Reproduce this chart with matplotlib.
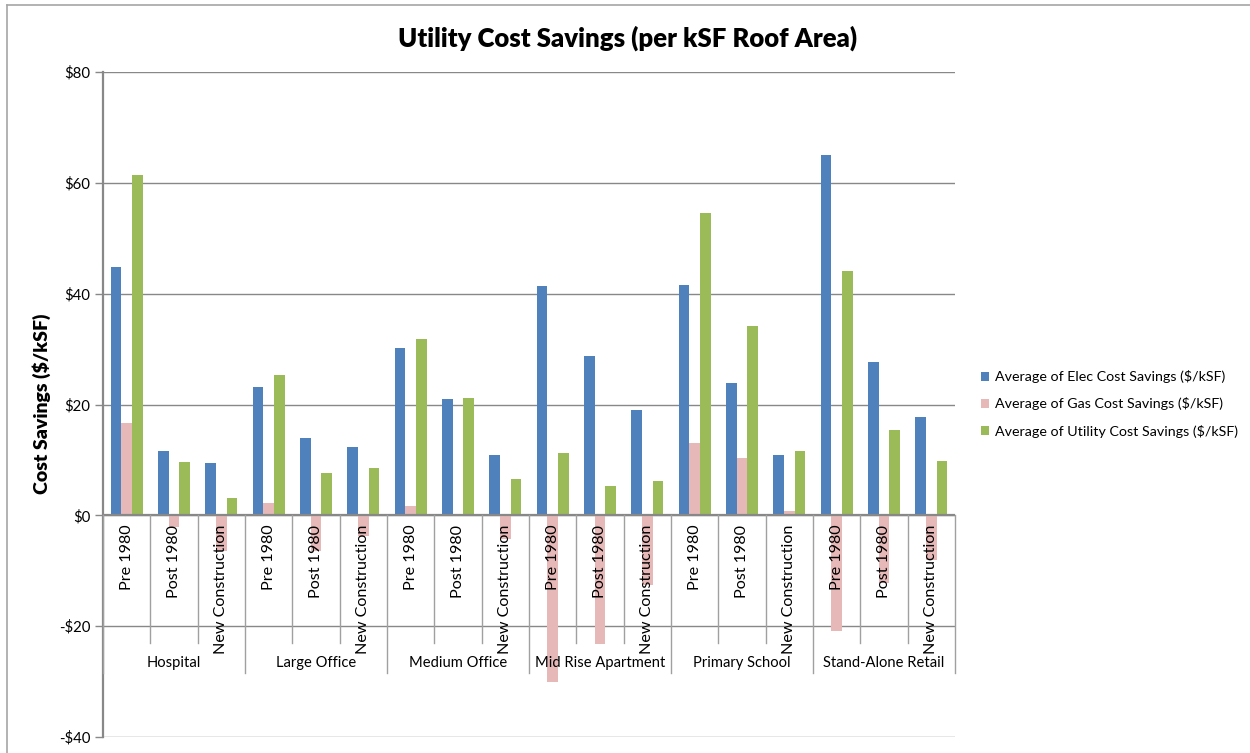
import matplotlib
matplotlib.use("Agg")
import matplotlib.pyplot as plt
from matplotlib.patches import Patch
from matplotlib.lines import Line2D
import numpy as np

groups = ["Hospital", "Large Office", "Medium Office", "Mid Rise Apartment",
          "Primary School", "Stand-Alone Retail"]
subcats = ["Pre 1980", "Post 1980", "New Construction"]

elec = [44.8, 11.6, 9.4,
        23.2, 14.0, 12.3,
        30.2, 21.0, 10.9,
        41.4, 28.8, 19.0,
        41.6, 23.9, 10.9,
        65.0, 27.7, 17.8]
gas = [16.6, -2.1, -6.4,
       2.2, -6.4, -3.8,
       1.7, 0.2, -4.2,
       -30.1, -23.3, -12.6,
       13.0, 10.3, 0.7,
       -20.8, -12.3, -8.0]
utility = [61.4, 9.6, 3.1,
           25.3, 7.6, 8.5,
           31.8, 21.2, 6.6,
           11.2, 5.3, 6.2,
           54.5, 34.2, 11.6,
           44.1, 15.4, 9.8]
series_names = ["Average of Elec Cost Savings ($/kSF)",
                "Average of Gas Cost Savings ($/kSF)",
                "Average of Utility Cost Savings ($/kSF)"]
colors = ["#4F81BD", "#E6B9B8", "#9BBB59"]
yticks = [-40, -20, 0, 20, 40, 60, 80]
ytick_labels = ["-$40", "-$20", "$0", "$20", "$40", "$60", "$80"]

FONT = "Lato"
W, H = 1250, 753
fig = plt.figure(figsize=(W / 100, H / 100), dpi=100)
ax = fig.add_axes([103 / W, 1 - 737 / H, (955 - 103) / W, (737 - 72) / H])

n = len(groups) * len(subcats)
x = np.arange(n)
bw = 0.224
for i, (vals, c) in enumerate(zip([elec, gas, utility], colors)):
    ax.bar(x + (i - 1) * bw, vals, width=bw, color=c, zorder=3, linewidth=0)

ax.set_xlim(-0.5, n - 0.5)
ax.set_ylim(-40, 80)
gridc = "#888888"
for yv in yticks:
    ax.axhline(yv, color=gridc, lw=1.0, zorder=1)
ax.axhline(0, color=gridc, lw=1.6, zorder=4)

for s in ["top", "right", "bottom"]:
    ax.spines[s].set_visible(False)
ax.spines["left"].set_color(gridc)
ax.spines["left"].set_linewidth(1.6)
ax.set_xticks([])
ax.set_yticks(yticks)
ax.set_yticklabels(ytick_labels, fontsize=10.8, family=FONT)
ax.tick_params(axis="y", length=6, color=gridc, width=1.0, pad=3)

# category axis (multi-level, drawn at zero)
sub_bottom = -23.0
grp_bottom = -28.5
for b in range(n + 1):
    xb = b - 0.5
    if b % 3 == 0:
        ax.plot([xb, xb], [0, grp_bottom], color="#A0A0A0", lw=1.0, zorder=4,
                clip_on=False)
    else:
        ax.plot([xb, xb], [0, sub_bottom], color="#A0A0A0", lw=1.0, zorder=4,
                clip_on=False)
for i in range(n):
    ax.text(x[i], -1.7, subcats[i % 3], rotation=90, ha="center", va="top",
            fontsize=11.6, family=FONT, zorder=5)
for g, name in enumerate(groups):
    ax.text(g * 3 + 1, -26.6, name, ha="center", va="center",
            fontsize=10.6, family=FONT, zorder=5)

fig.text(628 / W, 1 - 38 / H, "Utility Cost Savings (per kSF Roof Area)",
         ha="center", va="center", fontsize=18.5, fontweight="heavy", family=FONT)
fig.text(42 / W, 1 - 404 / H, "Cost Savings ($/kSF)", rotation=90,
         ha="center", va="center", fontsize=14, fontweight="heavy", family=FONT)

handles = [Patch(facecolor=c, edgecolor="none") for c in colors]
fig.legend(handles, series_names, loc="center left",
           bbox_to_anchor=(975 / W, 1 - 404 / H), frameon=False,
           prop={"family": FONT, "size": 10.3}, handlelength=0.6,
           handleheight=0.6, handletextpad=0.4, labelspacing=1.0,
           borderaxespad=0)

# chart border
bc = "#A6A6A6"
fig.add_artist(Line2D([7 / W, 1], [1 - 5 / H, 1 - 5 / H], color=bc, lw=1.2,
                      transform=fig.transFigure))
fig.add_artist(Line2D([7 / W, 7 / W], [0, 1 - 5 / H], color=bc, lw=1.2,
                      transform=fig.transFigure))

fig.savefig("out.png", dpi=100, facecolor="white")
